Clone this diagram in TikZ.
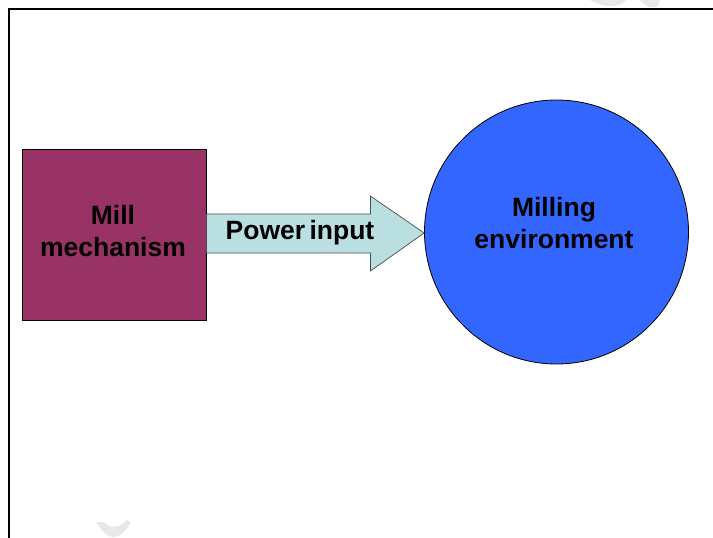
\documentclass[tikz,border=0pt]{standalone}
\usepackage{fontspec}
\setmainfont{Liberation Sans}
\usetikzlibrary{calc}
\definecolor{millc}{HTML}{993366}
\definecolor{envc}{HTML}{3366FF}
\definecolor{arrc}{HTML}{B9DFE0}
\definecolor{wmark}{HTML}{E8E8E8}
\begin{document}
\begin{tikzpicture}[x=1pt,y=-1pt,
  lbl/.style={font=\fontsize{26.5}{32}\selectfont\bfseries, align=center, text=black, inner sep=0pt},
  millbox/.style={draw=black, line width=0.8pt, fill=millc, minimum width=184pt, minimum height=171pt, inner sep=0pt},
  envcircle/.style={circle, draw=black, line width=0.8pt, fill=envc, minimum size=264pt, inner sep=0pt},
  arrowbody/.style={draw=black!70, line width=0.7pt, fill=arrc, line join=miter}]
\useasboundingbox (0,0) rectangle (713,538);
% faint watermark remnants
\fill[wmark] (96,522) .. controls (102,532) and (110,540) .. (118,536) .. controls (124,533) and (128,528) .. (131,522) -- (127,520) .. controls (120,527) and (112,530) .. (104,522) -- cycle;
\fill[wmark] (590,0) .. controls (600,6) and (612,8) .. (622,4) -- (626,0) -- cycle;
\fill[wmark] (640,0) .. controls (645,6) and (652,10) .. (658,6) -- (660,0) -- cycle;
% frame
\draw[line width=1.6pt] (9,545) -- (9,9) -- (720,9);
% nodes
\node[millbox] (mill) at (114,234.5) {};
\node[envcircle] (env) at (556.5,232) {};
\node[lbl] (milltxt) at (113,231) {Mill\\mechanism};
\node[lbl] (envtxt) at (554,223) {Milling\\environment};
% arrow
\draw[arrowbody] ($(mill.east)+(0,-20.5)$) coordinate (s1) -- ++(164,0) coordinate (s2)
  -- ++(0,-18) coordinate (h1) -- ($(env.west)+(0,1)$) coordinate (tip)
  -- ($(s2)+(0,57)$) coordinate (h2) -- ($(s2)+(0,39)$) coordinate (s3)
  -- ($(s1)+(0,39)$) coordinate (s4) -- cycle;
\node[lbl] (pow) at (300,233) {Power\hspace{0.16em}input};
\end{tikzpicture}
\end{document}
